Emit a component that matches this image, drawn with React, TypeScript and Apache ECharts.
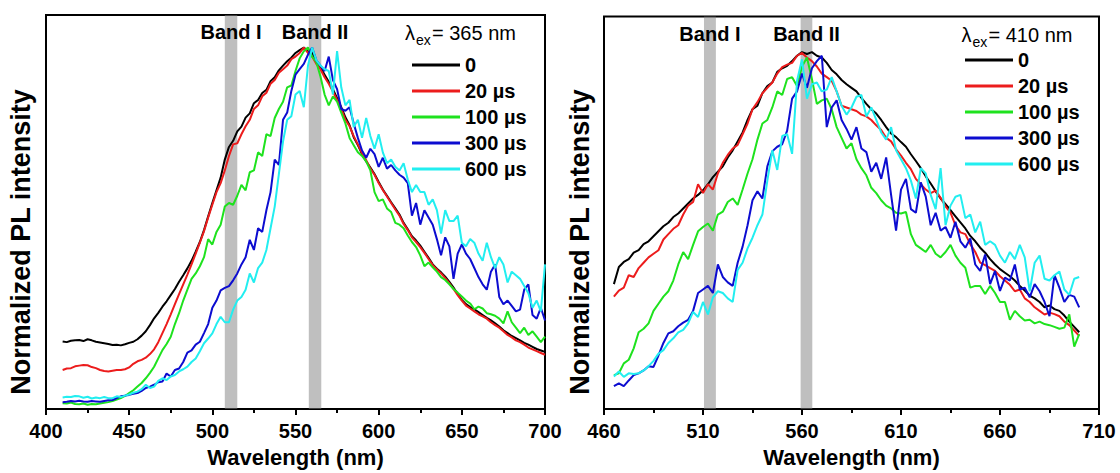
import React, { useEffect, useRef } from "react";
import * as echarts from "echarts";

const FONT = "'Liberation Sans', Arial, Helvetica, sans-serif";

const SERIES_NAMES = ["0", "20 µs", "100 µs", "300 µs", "600 µs"];
const COLORS = ["#000000", "#ec1c1c", "#1ee21e", "#0c0cd0", "#22eef0"];

const BAND_NAMES = ["Band I", "Band II"];
const LEFT_BANDS = [[507.5, 515], [558, 565.5]];
const RIGHT_BANDS = [[510.5, 516.5], [559.3, 565.2]];

const LEFT_EXC = "= 365 nm";
const RIGHT_EXC = "= 410 nm";

// ---------- Left panel (λex = 365 nm) ----------
const LEFT_WL = [
  410, 412.5, 415, 417.5, 420, 422.5, 425, 427.5, 430, 432.5,
  435, 437.5, 440, 442.5, 445, 447.5, 450, 452.5, 455, 457.5,
  460, 462.5, 465, 467.5, 470, 472.5, 475, 477.5, 480, 482.5,
  485, 487.5, 490, 492.5, 495, 497.5, 500, 502.5, 505, 507.5,
  510, 512.5, 515, 517.5, 520, 522.5, 525, 527.5, 530, 532.5,
  535, 537.5, 540, 542.5, 545, 547.5, 550, 552.5, 555, 557.5,
  560, 562.5, 565, 567.5, 570, 572.5, 575, 577.5, 580, 582.5,
  585, 587.5, 590, 592.5, 595, 597.5, 600, 602.5, 605, 607.5,
  610, 612.5, 615, 617.5, 620, 622.5, 625, 627.5, 630, 632.5,
  635, 637.5, 640, 642.5, 645, 647.5, 650, 652.5, 655, 657.5,
  660, 662.5, 665, 667.5, 670, 672.5, 675, 677.5, 680, 682.5,
  685, 687.5, 690, 692.5, 695, 697.5, 700,
];

const L_0 = [
  0.187, 0.185, 0.189, 0.19, 0.191, 0.188, 0.193, 0.19, 0.186, 0.184,
  0.182, 0.18, 0.177, 0.178, 0.176, 0.179, 0.183, 0.186, 0.193, 0.203,
  0.215, 0.232, 0.251, 0.266, 0.283, 0.298, 0.315, 0.332, 0.352, 0.37,
  0.389, 0.41, 0.435, 0.462, 0.495, 0.533, 0.57, 0.605, 0.64, 0.69,
  0.725, 0.742, 0.768, 0.781, 0.806, 0.818, 0.846, 0.855, 0.874, 0.883,
  0.907, 0.918, 0.937, 0.95, 0.962, 0.972, 0.985, 0.993, 1.0, 0.99,
  0.985, 0.962, 0.945, 0.925, 0.905, 0.885, 0.86, 0.835, 0.807, 0.785,
  0.752, 0.73, 0.705, 0.685, 0.668, 0.65, 0.628, 0.607, 0.59, 0.572,
  0.555, 0.538, 0.515, 0.497, 0.478, 0.466, 0.452, 0.435, 0.418, 0.4,
  0.388, 0.378, 0.366, 0.352, 0.336, 0.318, 0.302, 0.29, 0.282, 0.276,
  0.268, 0.26, 0.252, 0.245, 0.237, 0.228, 0.218, 0.21, 0.202, 0.196,
  0.19, 0.183, 0.178, 0.172, 0.166, 0.162, 0.158,
];
const L_20 = [
  0.108, 0.112, 0.113, 0.118, 0.12, 0.122, 0.121, 0.116, 0.113, 0.108,
  0.105, 0.104, 0.106, 0.108, 0.108, 0.11, 0.115, 0.125, 0.132, 0.136,
  0.142, 0.152, 0.165, 0.185, 0.21, 0.235, 0.262, 0.29, 0.318, 0.345,
  0.372, 0.4, 0.43, 0.46, 0.492, 0.53, 0.565, 0.6, 0.625, 0.66,
  0.7, 0.732, 0.735, 0.76, 0.782, 0.8, 0.83, 0.84, 0.865, 0.875,
  0.9, 0.91, 0.93, 0.94, 0.95, 0.968, 0.975, 0.985, 1.0, 0.985,
  0.975, 0.955, 0.94, 0.918, 0.9, 0.878, 0.855, 0.83, 0.8, 0.782,
  0.755, 0.732, 0.708, 0.688, 0.665, 0.648, 0.625, 0.606, 0.588, 0.57,
  0.552, 0.535, 0.512, 0.495, 0.475, 0.462, 0.448, 0.432, 0.415, 0.398,
  0.386, 0.375, 0.362, 0.348, 0.332, 0.315, 0.3, 0.286, 0.278, 0.27,
  0.262, 0.256, 0.25, 0.24, 0.232, 0.225, 0.215, 0.205, 0.198, 0.19,
  0.185, 0.178, 0.17, 0.165, 0.16, 0.155, 0.15,
];
const L_100 = [
  0.016, 0.015, 0.018, 0.014, 0.013, 0.015, 0.012, 0.014, 0.013, 0.015,
  0.017, 0.019, 0.022, 0.026, 0.03, 0.036, 0.044, 0.052, 0.062, 0.072,
  0.085, 0.1, 0.117, 0.14, 0.163, 0.18, 0.2, 0.235, 0.265, 0.3,
  0.33, 0.36, 0.375, 0.395, 0.42, 0.47, 0.455, 0.49, 0.51, 0.56,
  0.57, 0.565, 0.59, 0.62, 0.605, 0.655, 0.66, 0.71, 0.7, 0.76,
  0.755, 0.805, 0.83, 0.85, 0.89, 0.895, 0.935, 0.97, 0.99, 1.0,
  0.975, 0.96, 0.92, 0.87, 0.84, 0.865, 0.85, 0.82, 0.79, 0.75,
  0.73, 0.71, 0.7, 0.685, 0.66, 0.6, 0.575, 0.58, 0.555, 0.545,
  0.515, 0.51, 0.5, 0.48, 0.462, 0.448, 0.425, 0.395, 0.405, 0.392,
  0.38, 0.365, 0.357, 0.345, 0.332, 0.322, 0.311, 0.3, 0.292, 0.276,
  0.283, 0.278, 0.265, 0.262, 0.258, 0.25, 0.237, 0.27, 0.24, 0.225,
  0.21, 0.225, 0.205, 0.215, 0.2, 0.185, 0.2,
];
const L_300 = [
  0.019, 0.02, 0.022, 0.021, 0.023, 0.021, 0.02, 0.022, 0.021, 0.02,
  0.022, 0.024, 0.025, 0.03, 0.035, 0.037, 0.039, 0.042, 0.044, 0.05,
  0.058, 0.062, 0.067, 0.074, 0.076, 0.098, 0.09, 0.108, 0.112, 0.13,
  0.156, 0.162, 0.178, 0.186, 0.21, 0.235, 0.28, 0.3, 0.328, 0.335,
  0.34, 0.356, 0.375, 0.4, 0.42, 0.468, 0.44, 0.5, 0.49, 0.55,
  0.6, 0.69, 0.675, 0.8, 0.82, 0.88, 0.925, 0.94, 0.955, 0.98,
  1.0, 0.965, 0.95, 0.935, 0.975, 0.91, 0.885, 0.83, 0.825, 0.835,
  0.79, 0.75, 0.715, 0.695, 0.72, 0.705, 0.67, 0.695, 0.665, 0.675,
  0.66, 0.648, 0.64, 0.625, 0.535, 0.57, 0.51, 0.55, 0.53, 0.51,
  0.47, 0.425, 0.475, 0.45, 0.36, 0.43, 0.455, 0.43, 0.415, 0.39,
  0.365, 0.345, 0.33, 0.38, 0.4, 0.31, 0.29, 0.3, 0.285, 0.27,
  0.275, 0.33, 0.345, 0.26, 0.25, 0.28, 0.245,
];
const L_600 = [
  0.032, 0.034, 0.033, 0.036, 0.035, 0.031, 0.034, 0.029, 0.032, 0.03,
  0.033, 0.03, 0.03, 0.035, 0.033, 0.037, 0.04, 0.045, 0.048, 0.055,
  0.067, 0.058, 0.062, 0.078, 0.085, 0.08, 0.09, 0.094, 0.104, 0.11,
  0.117, 0.13, 0.14, 0.16, 0.182, 0.195, 0.209, 0.235, 0.255, 0.24,
  0.24, 0.275, 0.3, 0.31, 0.33, 0.375, 0.35, 0.39, 0.405, 0.44,
  0.5, 0.56, 0.65, 0.74, 0.8, 0.81, 0.87, 0.88, 0.835, 0.95,
  1.0, 0.965, 0.95, 0.94, 0.935, 0.87, 0.99, 0.89, 0.84, 0.855,
  0.78, 0.8, 0.75, 0.805, 0.755, 0.72, 0.76, 0.71, 0.68, 0.69,
  0.67, 0.66, 0.68, 0.635, 0.6, 0.62, 0.6, 0.6, 0.565, 0.58,
  0.55, 0.485, 0.55, 0.52, 0.52, 0.535, 0.46, 0.45, 0.47, 0.46,
  0.43, 0.41, 0.46, 0.42, 0.39, 0.42, 0.4, 0.35, 0.38, 0.37,
  0.36, 0.34, 0.32, 0.28, 0.3, 0.27, 0.4,
];

// ---------- Right panel (λex = 410 nm) ----------
const RIGHT_WL = [
  465, 467.5, 470, 472.5, 475, 477.5, 480, 482.5, 485, 487.5,
  490, 492.5, 495, 497.5, 500, 502.5, 505, 507.5, 510, 512.5,
  515, 517.5, 520, 522.5, 525, 527.5, 530, 532.5, 535, 537.5,
  540, 542.5, 545, 547.5, 550, 552.5, 555, 557.5, 560, 562.5,
  565, 567.5, 570, 572.5, 575, 577.5, 580, 582.5, 585, 587.5,
  590, 592.5, 595, 597.5, 600, 602.5, 605, 607.5, 610, 612.5,
  615, 617.5, 620, 622.5, 625, 627.5, 630, 632.5, 635, 637.5,
  640, 642.5, 645, 647.5, 650, 652.5, 655, 657.5, 660, 662.5,
  665, 667.5, 670, 672.5, 675, 677.5, 680, 682.5, 685, 687.5,
  690, 692.5, 695, 697.5, 700,
];

const R_0 = [
  0.35, 0.398, 0.412, 0.42, 0.438, 0.445, 0.462, 0.47, 0.484, 0.498,
  0.512, 0.522, 0.538, 0.548, 0.562, 0.576, 0.59, 0.6, 0.613, 0.63,
  0.65, 0.665, 0.68, 0.705, 0.725, 0.75, 0.775, 0.81, 0.84, 0.85,
  0.885, 0.905, 0.915, 0.945, 0.955, 0.962, 0.975, 0.99, 1.0, 0.995,
  1.0, 0.99, 0.985, 0.97, 0.95, 0.938, 0.922, 0.91, 0.9, 0.89,
  0.872, 0.855, 0.84, 0.828, 0.81, 0.79, 0.772, 0.762, 0.748, 0.735,
  0.714, 0.695, 0.675, 0.652, 0.632, 0.61, 0.59, 0.574, 0.557, 0.54,
  0.523, 0.506, 0.485, 0.47, 0.452, 0.438, 0.42, 0.405, 0.392, 0.382,
  0.372, 0.36, 0.345, 0.332, 0.318, 0.31, 0.3, 0.285, 0.29, 0.28,
  0.275, 0.262, 0.245, 0.23, 0.215,
];
const R_20 = [
  0.315, 0.332, 0.34, 0.375, 0.37, 0.395, 0.41, 0.425, 0.435, 0.445,
  0.475, 0.49, 0.505, 0.515, 0.545, 0.57, 0.58, 0.63, 0.605, 0.63,
  0.615, 0.66, 0.69, 0.712, 0.73, 0.74, 0.77, 0.8, 0.84, 0.86,
  0.885, 0.9, 0.915, 0.94, 0.958, 0.965, 0.97, 0.99, 0.998, 0.985,
  0.975, 0.96, 0.94, 0.93, 0.92, 0.89, 0.85, 0.845, 0.84, 0.835,
  0.825, 0.82, 0.81, 0.795, 0.782, 0.76, 0.75, 0.728, 0.71, 0.69,
  0.672, 0.645, 0.63, 0.615, 0.605, 0.612, 0.592, 0.568, 0.55, 0.515,
  0.495, 0.49, 0.462, 0.44, 0.41, 0.403, 0.395, 0.387, 0.372, 0.36,
  0.348, 0.33, 0.335, 0.31, 0.3, 0.285, 0.275, 0.265, 0.27, 0.266,
  0.26, 0.245, 0.235, 0.22, 0.205,
];
const R_100 = [
  0.095, 0.1, 0.128, 0.138, 0.17, 0.215, 0.225, 0.24, 0.275, 0.295,
  0.315, 0.33, 0.36, 0.405, 0.44, 0.42, 0.46, 0.498, 0.51, 0.52,
  0.5, 0.545, 0.553, 0.58, 0.59, 0.572, 0.615, 0.66, 0.7, 0.755,
  0.8, 0.81, 0.845, 0.89, 0.88, 0.925, 0.93, 0.905, 0.96, 0.985,
  0.925, 0.855, 0.865, 0.87, 0.84, 0.79, 0.76, 0.73, 0.745, 0.7,
  0.675, 0.655, 0.62, 0.605, 0.585, 0.57, 0.562, 0.55, 0.548, 0.552,
  0.49, 0.46, 0.45, 0.44, 0.46, 0.435, 0.425, 0.44, 0.46, 0.43,
  0.41, 0.396, 0.34, 0.345, 0.345, 0.322, 0.345, 0.325, 0.3, 0.3,
  0.25, 0.275, 0.26, 0.248, 0.25, 0.24, 0.245, 0.238, 0.235, 0.23,
  0.225, 0.228, 0.265, 0.175, 0.21,
];
const R_300 = [
  0.064, 0.072, 0.064, 0.08, 0.095, 0.1, 0.108, 0.12, 0.118, 0.15,
  0.185, 0.212, 0.218, 0.232, 0.242, 0.25, 0.275, 0.325, 0.335, 0.345,
  0.325, 0.405, 0.37, 0.355, 0.345, 0.41, 0.455, 0.515, 0.585, 0.61,
  0.59, 0.68, 0.722, 0.735, 0.742, 0.78, 0.87, 0.89, 0.94, 0.9,
  0.955, 0.975, 0.99, 0.79, 0.845, 0.865, 0.81, 0.785, 0.755, 0.79,
  0.73, 0.72, 0.665, 0.69, 0.645, 0.705, 0.6, 0.5, 0.615, 0.645,
  0.56, 0.55, 0.635, 0.595, 0.515, 0.55, 0.5, 0.51, 0.48, 0.525,
  0.47, 0.452, 0.478, 0.405, 0.387, 0.433, 0.35, 0.387, 0.331, 0.368,
  0.36, 0.405, 0.335, 0.34, 0.313, 0.35, 0.33, 0.3, 0.26, 0.375,
  0.34, 0.3, 0.32, 0.315, 0.285,
];
const R_600 = [
  0.091, 0.105, 0.09, 0.1, 0.098, 0.1, 0.108, 0.12, 0.135, 0.155,
  0.165, 0.185, 0.198, 0.215, 0.222, 0.24, 0.272, 0.258, 0.3, 0.265,
  0.313, 0.33, 0.325, 0.31, 0.3, 0.39, 0.41, 0.45, 0.48, 0.515,
  0.545, 0.64, 0.725, 0.67, 0.765, 0.77, 0.715, 0.92, 0.98, 0.87,
  0.91, 0.915, 0.89, 0.895, 0.93, 0.89, 0.85, 0.825, 0.845, 0.875,
  0.88, 0.82, 0.845, 0.81, 0.775, 0.755, 0.79, 0.725, 0.7, 0.675,
  0.64, 0.59, 0.675, 0.66, 0.6, 0.56, 0.675, 0.515, 0.57, 0.595,
  0.6, 0.535, 0.545, 0.495, 0.525, 0.46, 0.47, 0.46, 0.43, 0.41,
  0.44, 0.42, 0.46, 0.425, 0.33, 0.41, 0.43, 0.365, 0.36, 0.375,
  0.385, 0.335, 0.32, 0.365, 0.37,
];

const LEFT_SERIES = [L_0, L_20, L_100, L_300, L_600];
const RIGHT_SERIES = [R_0, R_20, R_100, R_300, R_600];

function buildOption() {
  const pairs = (wl: number[], v: number[]) => wl.map((w, i) => [w, v[i]]);

  const lineSeries = (gi: number, wl: number[], sets: number[][]) =>
    sets.map((vals, k) => ({
      type: "line",
      name: SERIES_NAMES[k],
      xAxisIndex: gi,
      yAxisIndex: gi,
      data: pairs(wl, vals),
      showSymbol: false,
      symbol: "none",
      silent: true,
      z: 2,
      lineStyle: { width: 2, color: COLORS[k] },
      itemStyle: { color: COLORS[k] },
    }));

  const bandSeries = (gi: number, bands: number[][]) => ({
    type: "line",
    xAxisIndex: gi,
    yAxisIndex: gi,
    data: [],
    silent: true,
    z: 5,
    markArea: {
      silent: true,
      itemStyle: { color: "rgba(128,128,128,0.5)" },
      label: {
        show: true,
        position: "insideTop",
        distance: 7,
        color: "#000",
        fontWeight: "bold",
        fontSize: 20,
        fontFamily: FONT,
      },
      data: bands.map((b, i) => [
        { name: BAND_NAMES[i], xAxis: b[0] },
        { xAxis: b[1] },
      ]),
    },
  });

  const xAxisBase = (gi: number, min: number, max: number) => ({
    gridIndex: gi,
    type: "value",
    min,
    max,
    interval: 50,
    axisLine: { show: true, onZero: false, lineStyle: { color: "#000", width: 2 } },
    axisTick: { show: true, inside: false, length: 6, lineStyle: { color: "#000", width: 2 } },
    minorTick: { show: true, splitNumber: 2, length: 4, lineStyle: { color: "#000", width: 2 } },
    axisLabel: {
      fontSize: 20,
      fontWeight: "bold",
      color: "#000",
      fontFamily: FONT,
      margin: 12,
    },
    splitLine: { show: false },
    minorSplitLine: { show: false },
    name: "Wavelength (nm)",
    nameLocation: "middle",
    nameGap: 37,
    nameTextStyle: { fontSize: 22, fontWeight: "bold", color: "#000", fontFamily: FONT },
  });

  const legendBase = (left: number, top: number) => ({
    data: SERIES_NAMES,
    orient: "vertical",
    left,
    top,
    padding: 0,
    itemWidth: 48,
    itemHeight: 3,
    itemGap: 6,
    icon: "rect",
    selectedMode: false,
    textStyle: {
      fontSize: 20,
      fontWeight: "bold",
      color: "#000",
      fontFamily: FONT,
      lineHeight: 20,
    },
  });

  const txt = (x: number, y: number, text: string, size: number, extra: any = {}) => ({
    type: "text",
    x,
    y,
    silent: true,
    style: {
      text,
      fontSize: size,
      fontFamily: FONT,
      fill: "#000",
      align: "left",
      verticalAlign: "middle",
      ...extra,
    },
  });

  const yTitle = (x: number) => ({
    type: "text",
    x,
    y: 242,
    rotation: Math.PI / 2,
    silent: true,
    style: {
      text: "Normalized PL intensity",
      fontSize: 27,
      fontWeight: "bold",
      fontFamily: FONT,
      fill: "#000",
      align: "center",
      verticalAlign: "middle",
    },
  });

  return {
    animation: false,
    backgroundColor: "#ffffff",
    textStyle: { fontFamily: FONT },
    grid: [
      { left: 46, top: 15, width: 499, height: 398, show: true, borderColor: "#000", borderWidth: 2, backgroundColor: "transparent" },
      { left: 604, top: 16.5, width: 495, height: 396.5, show: true, borderColor: "#000", borderWidth: 2, backgroundColor: "transparent" },
    ],
    xAxis: [xAxisBase(0, 400, 700), xAxisBase(1, 460, 710)],
    yAxis: [
      { gridIndex: 0, type: "value", min: 0, max: 1.09, show: false },
      { gridIndex: 1, type: "value", min: 0, max: 1.1, show: false },
    ],
    legend: [legendBase(412, 55), legendBase(965, 50)],
    series: [
      ...lineSeries(0, LEFT_WL, LEFT_SERIES),
      bandSeries(0, LEFT_BANDS),
      ...lineSeries(1, RIGHT_WL, RIGHT_SERIES),
      bandSeries(1, RIGHT_BANDS),
    ],
    graphic: [
      yTitle(21),
      yTitle(580),
      txt(405, 33, "λ", 20),
      txt(416, 40, "ex", 14),
      txt(432, 33, LEFT_EXC, 20),
      txt(961.5, 35, "λ", 20),
      txt(972.5, 42, "ex", 14),
      txt(988.5, 35, RIGHT_EXC, 20),
    ],
  };
}

export default function App() {
  const ref = useRef<HTMLDivElement>(null);
  useEffect(() => {
    if (!ref.current) return;
    const chart = echarts.init(ref.current, null, { renderer: "svg" });
    chart.setOption(buildOption() as any);
    return () => chart.dispose();
  }, []);
  return (
    <div
      ref={ref}
      style={{ position: "fixed", left: 0, top: 0, width: 1120, height: 473, background: "#fff" }}
    />
  );
}
